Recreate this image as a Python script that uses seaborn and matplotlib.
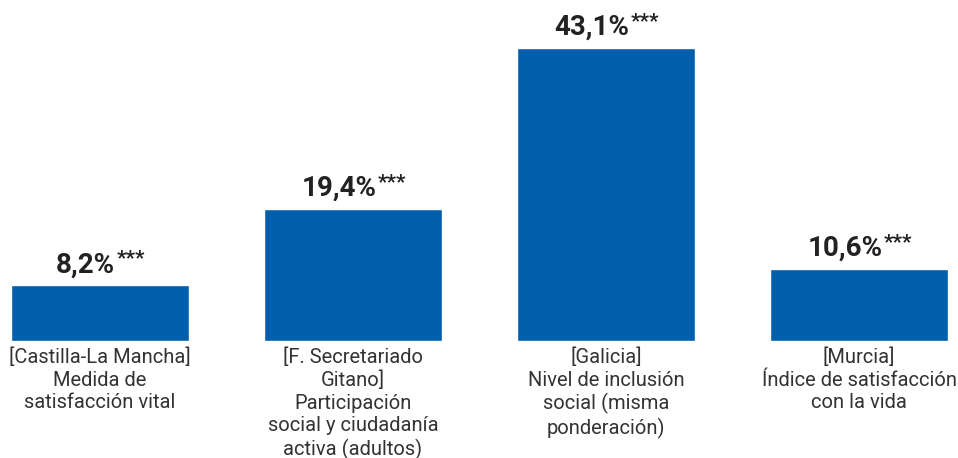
import matplotlib
matplotlib.use("Agg")
import matplotlib.pyplot as plt
import seaborn as sns
import pandas as pd

categories = [
    "[Castilla-La Mancha]\nMedida de\nsatisfacción vital",
    "[F. Secretariado\nGitano]\nParticipación\nsocial y ciudadanía\nactiva (adultos)",
    "[Galicia]\nNivel de inclusión\nsocial (misma\nponderación)",
    "[Murcia]\nÍndice de satisfacción\ncon la vida",
]
values = [8.2, 19.4, 43.1, 10.6]
value_labels = ["8,2%", "19,4%", "43,1%", "10,6%"]
stars = "***"

BLUE = "#005FAD"

sns.set_theme(style="white")
plt.rcParams["font.family"] = ["Roboto", "DejaVu Sans"]

fig = plt.figure(figsize=(9.58, 4.58), dpi=100)
ax = fig.add_axes([0, 117 / 458, 1, 341 / 458])

df = pd.DataFrame({"cat": categories, "val": values})
sns.barplot(data=df, x="cat", y="val", color=BLUE, saturation=1, width=0.704, ax=ax)

ax.set_xlim(-0.395, 3.391)
ax.set_ylim(0, 50.15)
ax.set_xlabel("")
ax.set_ylabel("")
ax.set_yticks([])
for s in ax.spines.values():
    s.set_visible(False)
ax.tick_params(axis="x", length=0, pad=5, labelsize=14.5, labelcolor="#333333")
for lbl in ax.get_xticklabels():
    lbl.set_linespacing(1.22)

# value labels with superscript significance stars
fig.canvas.draw()
renderer = fig.canvas.get_renderer()
off = 5
for i, (v, txt) in enumerate(zip(values, value_labels)):
    main = ax.annotate(txt, (i, v), xytext=(0, off), textcoords="offset points",
                       ha="center", va="bottom", fontsize=20, fontweight="bold",
                       color="#222222")
    sup = ax.annotate(stars, (i, v), xytext=(0, off), textcoords="offset points",
                      ha="left", va="bottom", fontsize=15, fontweight="bold",
                      color="#222222")
    wm = main.get_window_extent(renderer).width * 72 / fig.dpi
    ws = sup.get_window_extent(renderer).width * 72 / fig.dpi
    shift = -ws / 2
    main.set_position((shift, off))
    sup.set_position((shift + wm / 2 + 1, off + 7))

fig.savefig("out.png", dpi=100)
